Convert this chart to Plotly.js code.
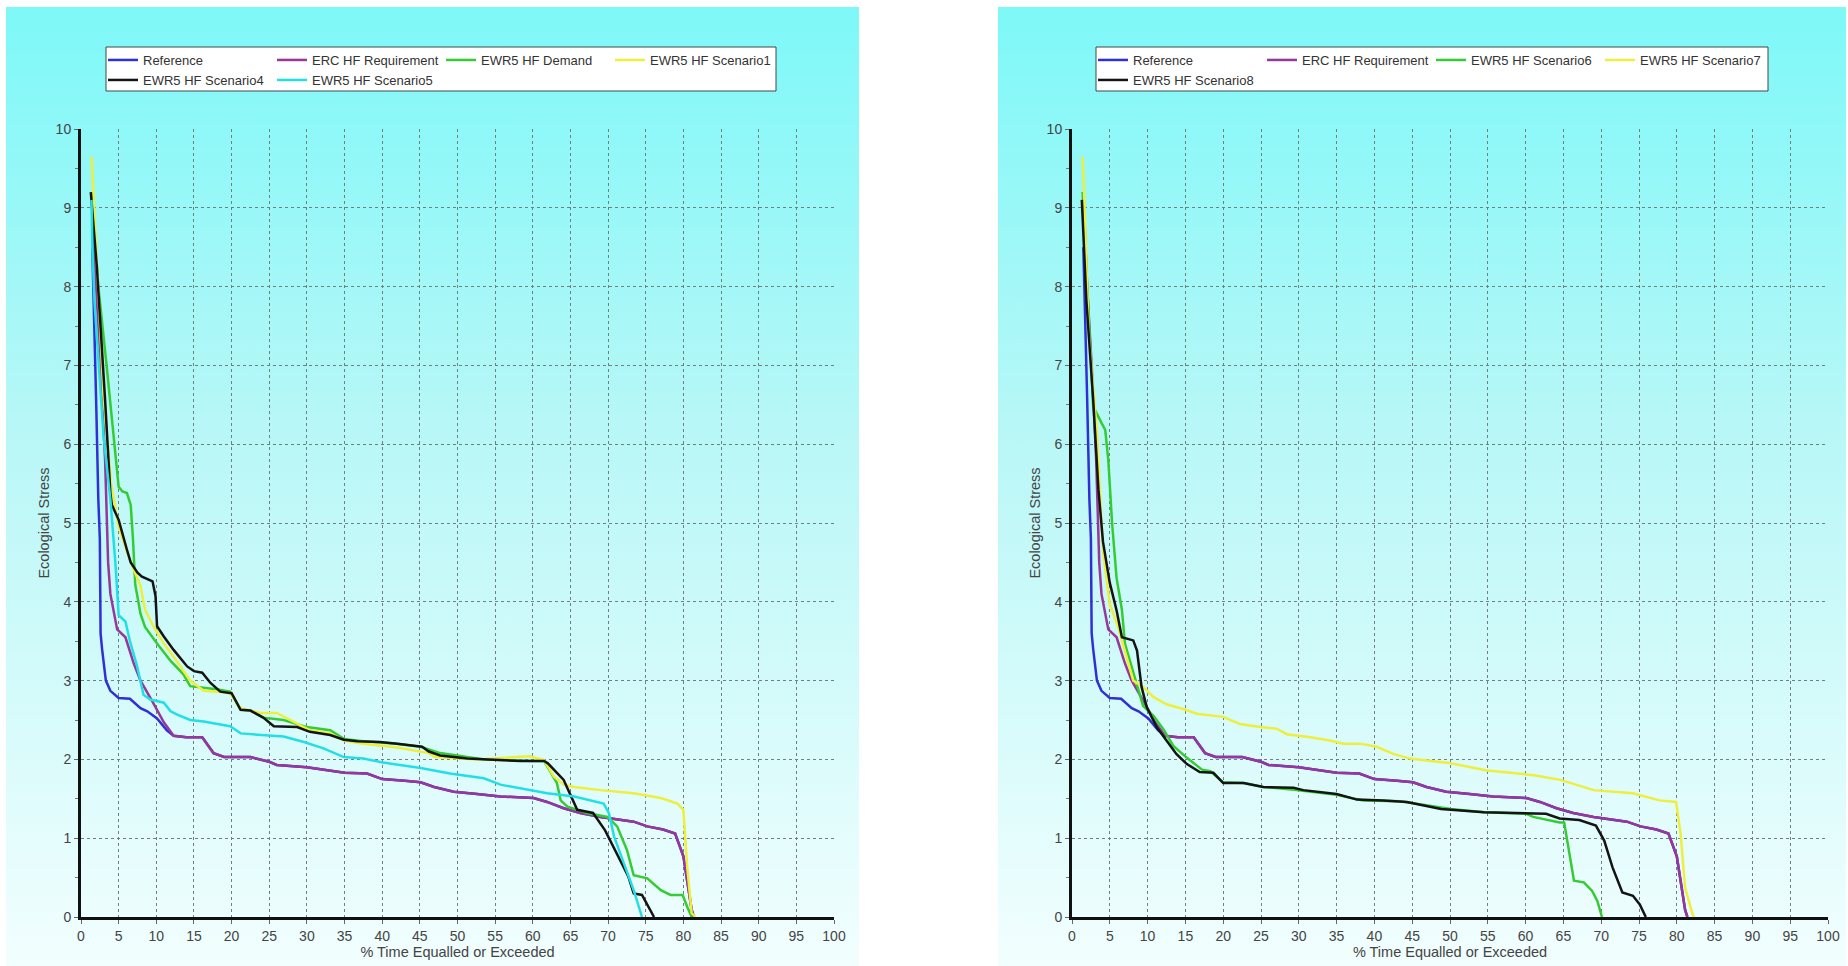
<!DOCTYPE html>
<html>
<head>
<meta charset="utf-8">
<script src="https://cdn.plot.ly/plotly-3.0.1.min.js"></script>
<style>
  html, body { margin: 0; padding: 0; background: #ffffff; width: 1848px; height: 966px; overflow: hidden; }
  .panel { position: absolute; top: 7px; height: 959px;
           background: linear-gradient(to bottom, #7ef8f8 0%, #b9f7f7 45%, #f2fefe 100%); }
  #left { left: 6px; width: 853px; }
  #right { left: 998px; width: 848px; }
</style>
</head>
<body>
<div id="left" class="panel"></div>
<div id="right" class="panel"></div>
<script>
// ---------- data ----------
const xTicks = [0,5,10,15,20,25,30,35,40,45,50,55,60,65,70,75,80,85,90,95,100];
const yTicks = [0,1,2,3,4,5,6,7,8,9,10];

// Reference (both panels)
const refX = [1.5,1.7,2.0,2.3,2.5,2.6,2.8,3.3,3.9,5.0,6.5,7.9,8.8,10.1,11.4,12.3,14.0,16.1,17.6,19.0,22.5,25.0,26.0,30.0,33.0,35.0,38.0,40.0,43.0,45.1,46.9,49.5,52.6,55.7,60.1,61.9,64.1,66.3,69.0,73.4,75.2,77.3,78.9,80.0,81.1,81.4];
const refY = [8.5,7.8,6.6,5.3,4.8,3.6,3.4,3.0,2.87,2.78,2.77,2.65,2.61,2.52,2.37,2.3,2.28,2.28,2.08,2.03,2.03,1.97,1.93,1.9,1.86,1.83,1.82,1.75,1.73,1.71,1.65,1.59,1.56,1.53,1.51,1.46,1.38,1.32,1.27,1.21,1.15,1.11,1.06,0.77,0.09,0];

// ERC HF Requirement (both panels)
const ercX = [1.5,2.0,2.6,3.2,3.6,3.9,4.8,5.9,7.0,7.9,9.4,11.0,12.3,14.0,16.1,17.6,19.0,22.5,25.0,26.0,30.0,33.0,35.0,38.0,40.0,43.0,45.1,46.9,49.5,52.6,55.7,60.1,61.9,64.1,66.3,69.0,73.4,75.2,77.3,78.9,80.0,81.1,81.4];
const ercY = [9.2,8.0,7.0,5.8,4.5,4.1,3.65,3.55,3.22,3.0,2.75,2.47,2.3,2.28,2.28,2.08,2.03,2.03,1.97,1.93,1.9,1.86,1.83,1.82,1.75,1.73,1.71,1.65,1.59,1.56,1.53,1.51,1.46,1.38,1.32,1.27,1.21,1.15,1.11,1.06,0.77,0.09,0];

// Left panel
const demandX = [1.4,2.3,3.4,4.3,5.0,5.5,6.1,6.6,6.9,7.2,7.9,8.5,10.1,11.9,13.6,14.5,16.3,18.0,19.8,21.2,22.5,24.2,26.9,30.0,33.1,34.9,37.5,41.9,45.1,47.7,51.3,53.5,60.1,61.5,63.2,63.7,64.6,67.2,69.9,71.2,72.5,73.4,75.2,77.0,78.3,79.9,80.5,81.1];
const demandY = [9.2,8.0,7.0,6.14,5.46,5.4,5.38,5.23,4.8,4.22,3.85,3.68,3.47,3.25,3.08,2.93,2.91,2.89,2.86,2.63,2.62,2.53,2.5,2.41,2.37,2.26,2.23,2.2,2.16,2.08,2.03,2.0,1.98,1.98,1.7,1.48,1.40,1.32,1.27,1.15,0.85,0.53,0.49,0.34,0.28,0.28,0.13,0];

const scen1X = [1.4,1.7,2.2,3.0,4.0,5.0,6.5,7.9,8.5,9.6,11.0,12.7,14.5,16.3,18.0,19.8,21.2,23.8,26.0,28.2,30.4,33.1,34.9,37.5,42.0,46.2,47.0,52.6,59.6,61.5,62.8,64.1,65.5,69.0,73.4,77.0,79.2,80.0,80.5,81.1,81.6];
const scen1Y = [9.65,9.1,8.0,6.6,5.5,4.95,4.53,4.2,3.9,3.69,3.47,3.25,3.0,2.87,2.86,2.84,2.65,2.59,2.59,2.48,2.37,2.33,2.24,2.2,2.15,2.08,2.03,2.0,2.04,1.99,1.78,1.68,1.65,1.61,1.57,1.51,1.44,1.36,0.64,0.05,0];

const scen4X = [1.3,2.1,3.2,3.9,4.1,5.0,6.1,6.6,7.5,8.1,9.5,9.9,10.1,11.0,12.3,14.1,15.0,16.1,17.2,18.5,20.0,21.2,22.5,24.2,25.6,28.7,30.4,33.1,34.9,36.7,39.7,42.0,45.3,46.2,47.7,51.3,58.3,61.5,62.0,64.1,65.9,68.0,69.6,70.9,72.7,73.4,74.5,76.1];
const scen4Y = [9.2,8.26,6.56,5.38,5.23,5.04,4.66,4.5,4.37,4.32,4.26,4.07,3.69,3.56,3.39,3.18,3.12,3.1,2.97,2.86,2.84,2.63,2.62,2.53,2.42,2.41,2.35,2.31,2.25,2.23,2.22,2.2,2.16,2.1,2.05,2.01,1.98,1.98,1.95,1.74,1.36,1.32,1.10,0.85,0.51,0.3,0.28,0];

const scen5X = [1.4,1.5,1.8,2.4,3.0,3.9,4.6,5.0,5.9,6.5,7.4,8.3,9.2,11.0,11.9,12.7,14.5,16.3,18.9,19.8,21.2,24.2,26.9,29.6,32.2,34.9,37.5,40.1,42.8,45.1,49.0,53.5,55.7,58.3,61.9,65.5,67.7,69.4,70.1,70.8,72.1,73.4,74.5];
const scen5Y = [9.1,8.5,7.8,6.9,6.1,5.3,4.45,3.83,3.75,3.5,3.2,2.82,2.76,2.72,2.61,2.57,2.5,2.48,2.44,2.42,2.33,2.31,2.29,2.22,2.14,2.03,2.01,1.96,1.92,1.89,1.82,1.76,1.68,1.63,1.57,1.53,1.48,1.44,1.32,1.02,0.68,0.34,0];

// Right panel
const scen6X = [1.4,2.0,2.8,3.9,4.4,4.8,5.3,5.9,6.6,7.0,8.3,9.4,10.8,12.1,13.4,15.2,17.2,18.3,20.0,22.7,25.3,29.7,35.0,38.5,43.4,47.9,50.1,54.5,60.1,61.0,64.5,65.1,65.8,66.4,67.7,68.8,69.5,70.1];
const scen6Y = [9.2,8.0,6.48,6.27,6.18,5.8,5.0,4.3,3.9,3.47,3.05,2.68,2.55,2.38,2.17,2.02,1.87,1.85,1.71,1.70,1.65,1.61,1.55,1.48,1.47,1.40,1.37,1.33,1.31,1.27,1.20,1.20,0.80,0.46,0.44,0.33,0.2,0];

const scen7X = [1.4,1.6,2.2,3.3,4.1,5.0,6.1,7.2,8.1,9.4,10.8,12.5,14.7,16.5,18.3,20.0,22.2,24.9,27.1,28.4,31.5,34.1,35.9,38.1,40.3,42.5,44.7,50.1,54.9,61.1,64.6,69.0,74.2,77.7,79.9,80.5,81.1,82.1,82.3];
const scen7Y = [9.65,9.2,7.4,6.14,4.65,3.97,3.68,3.30,3.0,2.92,2.79,2.70,2.64,2.58,2.56,2.54,2.45,2.41,2.39,2.32,2.28,2.24,2.20,2.20,2.16,2.07,2.01,1.95,1.86,1.80,1.74,1.61,1.57,1.48,1.46,1.06,0.37,0.03,0];

const scen8X = [1.3,1.9,2.8,3.5,4.1,5.0,5.9,6.6,8.1,8.6,9.2,9.9,11.2,12.5,13.8,15.2,16.9,18.7,20.0,22.7,25.3,29.3,30.6,35.0,37.7,41.2,44.3,48.8,54.5,62.7,64.5,67.1,69.3,70.4,71.5,72.8,74.2,75.1,75.9];
const scen8Y = [9.1,7.83,6.57,5.42,4.76,4.24,3.89,3.55,3.51,3.38,2.92,2.66,2.41,2.24,2.07,1.94,1.84,1.83,1.70,1.70,1.65,1.64,1.61,1.56,1.49,1.48,1.46,1.37,1.33,1.31,1.25,1.23,1.16,0.97,0.63,0.31,0.27,0.16,0];

// ---------- styling ----------
const FONT = 'Arial, "Liberation Sans", sans-serif';
const TXT = '#444444';
const C = {
  ref: '#2f2fd8', erc: '#95379b', green: '#33cc33',
  yellow: '#eeee3c', black: '#141414', cyan: '#22dfe6'
};

function line(name, x, y, color, legend) {
  return { type: 'scatter', mode: 'lines', name: name, x: x, y: y,
           line: { color: color, width: 2.5 }, legend: legend,
           hoverinfo: 'skip' };
}

function legendCfg(x, y) {
  return { orientation: 'h', x: x, xanchor: 'left', y: y, yanchor: 'top',
           bgcolor: 'rgba(0,0,0,0)', borderwidth: 0,
           entrywidth: 124, entrywidthmode: 'pixels', itemwidth: 30,
           traceorder: 'normal',
           font: { family: FONT, size: 13, color: '#333333' } };
}

function makeLayout(w, l, r, plotW) {
  const t = 122, b = 49, plotH = 959 - t - b;
  const boxL = (l === 75) ? 100 : 98, boxR = 770;
  const px = v => (v - l) / plotW;
  const py = v => 1 + (t - v) / plotH;
  const gridCol = '#6f8080';
  return {
    width: w, height: 959,
    margin: { l: l, r: r, t: t, b: b, autoexpand: false },
    paper_bgcolor: 'rgba(0,0,0,0)', plot_bgcolor: 'rgba(0,0,0,0)',
    font: { family: FONT, color: TXT },
    showlegend: true,
    legend: legendCfg(px(boxL - 3), py(38)),
    legend2: legendCfg(px(boxL - 3), py(58)),
    shapes: [{ type: 'rect', xref: 'paper', yref: 'paper',
               x0: px(boxL), x1: px(boxR), y0: py(84), y1: py(40),
               fillcolor: '#ffffff', line: { color: '#3a4a4a', width: 1 }, layer: 'below' }],
    xaxis: {
      range: [0, 100], tickvals: xTicks, ticktext: xTicks.map(String),
      showgrid: true, gridcolor: gridCol, griddash: '3px,3px', gridwidth: 1,
      showline: true, linecolor: '#111111', linewidth: 3, zeroline: false,
      ticks: 'outside', ticklen: 4, tickcolor: '#666', tickwidth: 1,
      tickfont: { family: FONT, size: 14, color: TXT },
      title: { text: '% Time Equalled or Exceeded', font: { family: FONT, size: 14.5, color: TXT }, standoff: 2 },
      automargin: false, fixedrange: true
    },
    yaxis: {
      range: [0, 10], tickvals: yTicks, ticktext: yTicks.map(String),
      showgrid: true, gridcolor: gridCol, griddash: '3px,3px', gridwidth: 1,
      showline: true, linecolor: '#111111', linewidth: 3, zeroline: false,
      ticks: 'outside', ticklen: 4, tickcolor: '#666', tickwidth: 1,
      minor: { dtick: 0.5, tick0: 0, ticks: 'outside', ticklen: 3, tickcolor: '#777', showgrid: false },
      tickfont: { family: FONT, size: 14, color: TXT },
      title: { text: 'Ecological Stress', font: { family: FONT, size: 14.5, color: TXT }, standoff: 3 },
      automargin: false, fixedrange: true
    }
  };
}

const leftTraces = [
  line('Reference', refX, refY, C.ref, 'legend'),
  line('ERC HF Requirement', ercX, ercY, C.erc, 'legend'),
  line('EWR5 HF Demand', demandX, demandY, C.green, 'legend'),
  line('EWR5 HF Scenario1', scen1X, scen1Y, C.yellow, 'legend'),
  line('EWR5 HF Scenario4', scen4X, scen4Y, C.black, 'legend2'),
  line('EWR5 HF Scenario5', scen5X, scen5Y, C.cyan, 'legend2')
];
const rightTraces = [
  line('Reference', refX, refY, C.ref, 'legend'),
  line('ERC HF Requirement', ercX, ercY, C.erc, 'legend'),
  line('EWR5 HF Scenario6', scen6X, scen6Y, C.green, 'legend'),
  line('EWR5 HF Scenario7', scen7X, scen7Y, C.yellow, 'legend'),
  line('EWR5 HF Scenario8', scen8X, scen8Y, C.black, 'legend2')
];

const cfg = { displayModeBar: false, staticPlot: true };
Plotly.newPlot('left', leftTraces, makeLayout(853, 75, 25, 753), cfg);
Plotly.newPlot('right', rightTraces, makeLayout(848, 74, 18, 756), cfg);
</script>
</body>
</html>
